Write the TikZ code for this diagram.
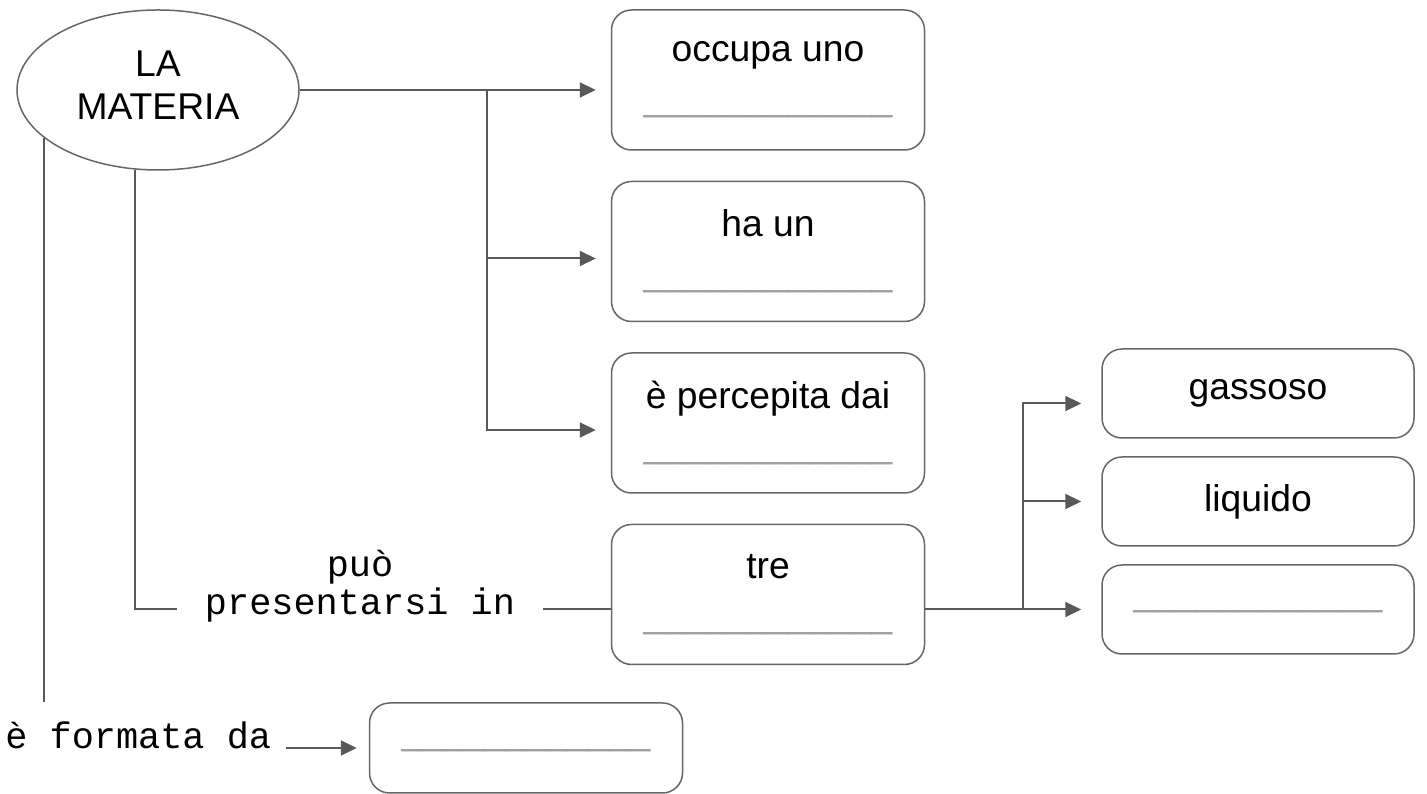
\documentclass[tikz,border=0pt]{standalone}
\usepackage{fontspec}
\setmainfont{Liberation Sans}
\newfontfamily\monofont{Liberation Mono}
\usetikzlibrary{arrows.meta,shapes,positioning}
\definecolor{linecolor}{HTML}{595959}
\definecolor{boxcolor}{HTML}{666666}
\definecolor{blankcolor}{HTML}{A0A0A0}
\newcommand{\blankline}{\textcolor{blankcolor}{\_\_\_\_\_\_\_\_\_\_\_\_}}
\tikzset{
	concept/.style={
		ellipse,
		draw=boxcolor,
		line width=0.03cm,
		minimum width=5.64cm,
		minimum height=3.2cm,
		inner sep=0pt,
		align=center,
		font=\fontsize{21.2}{24.5}\selectfont
	},
	block/.style={
		rectangle,
		rounded corners=0.4cm,
		draw=boxcolor,
		line width=0.03cm,
		fill=white,
		minimum width=6.26cm,
		minimum height=2.8cm,
		align=center,
		font=\fontsize{21.2}{28}\selectfont
	},
	smallblock/.style={
		block,
		minimum width=6.24cm,
		minimum height=1.78cm
	},
	link/.style={
		draw=linecolor,
		line width=0.04cm
	},
	arrow/.style={
		link,
		->,
		>={Triangle[length=0.32cm,width=0.3cm]},
		shorten >=0.3cm
	},
	linktext/.style={
		font=\monofont\fontsize{21}{21.5}\selectfont,
		align=center
	},
}

\begin{document}
\begin{tikzpicture}
		\useasboundingbox (0,0) rectangle (28.54,15.88);
		\node (materia) [concept] at (3.16,14.08) {LA\\MATERIA\\[-0.66cm]};
		\node (occupa) [block] at (15.36,14.28) {occupa uno\\\blankline};
		\node (hasun) [block, below = 0.6cm of occupa] {ha un\\\blankline};
		\node (percepita) [block, below = 0.6cm of hasun] {è percepita dai\\\blankline};
		\node (tre) [block, below = 0.6cm of percepita] {tre\\\blankline};
		\node (gassoso) [smallblock] at (25.16,8.01) {gassoso};
		\node (liquido) [smallblock, below = 0.35cm of gassoso] {liquido};
		\node (terzo) [smallblock, below = 0.35cm of liquido] {\blankline};
		\node (formbox) [smallblock, minimum width=6.26cm, minimum height=1.8cm] at (10.52,0.92) {\blankline};
		\node (puo) [linktext, inner xsep=0.55cm] at (7.2,4.16) {può\\presentarsi in};
		\node (formata) [linktext, anchor=west, inner xsep=0.3cm, inner ysep=0.38cm] at (-0.2,1.18) {è formata da};
		\coordinate [right = 3.74cm of materia.east] (fork);
		\coordinate (trein) at ([yshift=-0.3cm]tre.west);
		\coordinate (treout) at ([yshift=-0.3cm]tre.east);
		\coordinate [right = 1.96cm of treout] (split);
		\draw [link] (materia.east) -- (fork);
		\draw [arrow] (fork) -- (fork -| occupa.west);
		\draw [arrow] (fork) |- ([yshift=-0.14cm]hasun.west);
		\draw [arrow] (fork) |- ([yshift=-0.14cm]percepita.west);
		\draw [link] (materia.254.4) |- (puo.west |- trein);
		\draw [link] (puo.east |- trein) -- (trein);
		\draw [link] (treout) -- (split);
		\draw [arrow, shorten >=0.4cm] (split) |- ([yshift=-0.2cm]gassoso.west);
		\draw [arrow, shorten >=0.4cm] (split) |- (liquido.west);
		\draw [arrow, shorten >=0.4cm] (split) -- (split -| terzo.west);
		\draw [link] (materia.203.6) -- (materia.203.6 |- formata.north);
		\draw [arrow, shorten >=0.24cm] (formata.east |- formbox.west) -- (formbox.west);
\end{tikzpicture}
\end{document}
